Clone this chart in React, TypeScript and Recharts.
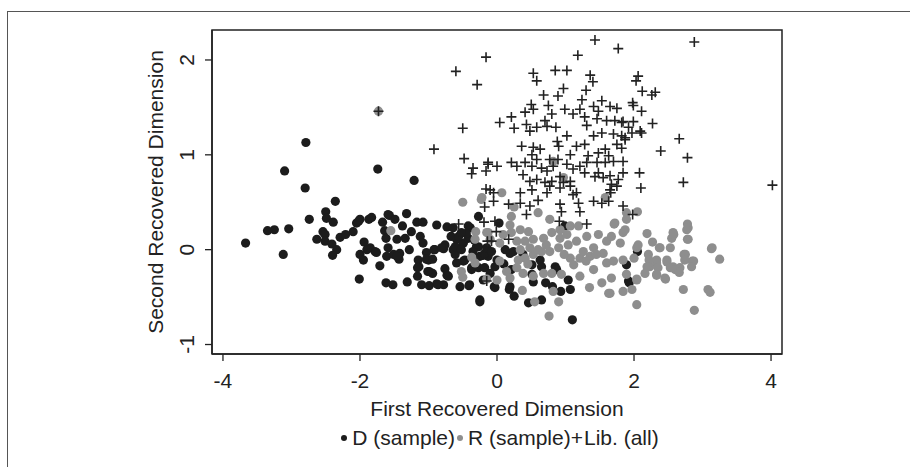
import { ScatterChart, Scatter, XAxis, YAxis, ReferenceArea } from "recharts";

const FONT = "'Liberation Sans', Arial, sans-serif";
const INK = "#222222";
const BLACK = "#1c1c1c";
const GRAY = "#8e8e8e";
const FS = 21;

const X_TICKS = [-4, -2, 0, 2, 4];
const Y_TICKS = [-1, 0, 1, 2];
const X_DOMAIN = [-4.16, 4.16];
const Y_DOMAIN = [-1.1, 2.316];

const X_TITLE = "First Recovered Dimension";
const Y_TITLE = "Second Recovered Dimension";

// D (sample)
const demSample: [number, number][] = [
  [-3.10, 0.83], [-2.79, 1.13], [-2.80, 0.65], [-1.74, 0.85], [-1.21, 0.73], [-2.36, 0.51], [-2.50, 0.40],
  [-2.49, 0.33], [-2.39, 0.29], [-2.74, 0.32], [-3.04, 0.22], [-3.25, 0.21], [-3.35, 0.20], [-3.67, 0.07],
  [-3.12, -0.05], [-2.54, 0.19], [-2.51, 0.16], [-2.63, 0.11], [-2.51, 0.09], [-2.41, 0.06], [-2.34, 0.00],
  [-2.40, -0.06], [-2.29, 0.13], [-2.21, 0.16], [-2.10, 0.19], [-2.05, 0.28], [-2.00, 0.32], [-1.87, 0.32],
  [-1.83, 0.34], [-1.67, 0.29], [-1.57, 0.36], [-1.49, 0.32], [-1.38, 0.25], [-1.32, 0.38], [-1.25, 0.19],
  [-1.17, 0.29], [-1.08, 0.29], [-0.88, 0.26], [-0.73, 0.24], [-1.64, 0.20], [-1.62, 0.12], [-1.46, 0.11],
  [-1.34, 0.12], [-1.12, 0.14], [-1.08, 0.07], [-1.94, 0.08], [-1.85, 0.02], [-1.78, -0.02], [-2.00, -0.05],
  [-1.95, -0.11], [-2.01, -0.31], [-1.71, -0.17], [-1.59, 0.02], [-1.61, -0.07], [-1.51, -0.05], [-1.43, -0.10],
  [-1.42, -0.04], [-1.28, 0.00], [-1.15, -0.11], [-1.14, -0.18], [-1.03, -0.03], [-1.00, -0.11], [-0.91, 0.00],
  [-0.78, 0.01], [-0.76, 0.05], [-0.67, 0.14], [-0.59, 0.11], [-0.64, 0.00], [-0.55, 0.02], [-0.49, 0.07],
  [-0.42, 0.12], [-0.30, 0.03], [-0.27, 0.35], [-0.39, 0.23], [-0.76, -0.20], [-0.99, -0.23], [-0.94, -0.25],
  [-1.16, -0.28], [-1.31, -0.34], [-1.52, -0.37], [-1.62, -0.35], [-1.10, -0.37], [-0.99, -0.38], [-0.88, -0.36],
  [-0.78, -0.37], [-0.73, -0.27], [-0.54, -0.39], [-0.40, -0.37], [-0.25, -0.55], [-0.59, -0.14], [-0.49, -0.12],
  [-0.37, -0.21], [-0.27, -0.19], [-0.18, -0.19], [-0.25, -0.07], [-0.20, -0.06], [-0.61, -0.05],
  [-0.04, -0.39], [-0.13, -0.07], [-0.27, 0.03], [-0.41, -0.38], [-0.56, 0.14], [-0.61, 0.03], [-0.52, 0.00],
  [-0.47, -0.11], [-0.37, -0.19], [-0.64, 0.23], [-0.42, 0.25], [-0.71, -0.28], [-2.02, 0.30], [-1.59, 0.37],
  [-1.90, 0.00], [-1.76, -0.03], [-1.46, -0.07], [-1.03, -0.10], [-0.94, -0.10], [-1.01, -0.23], [-1.16, -0.19],
  [-0.92, 0.00], [-0.81, 0.02], [-0.86, -0.37],
  [0.03, 0.28], [-0.18, -0.04], [0.00, -0.11], [-0.03, -0.18], [-0.20, -0.32], [-0.03, -0.40], [0.19, -0.39],
  [0.18, -0.42], [0.25, -0.49], [0.46, -0.56], [0.65, -0.53], [1.10, -0.74], [0.71, -0.35], [0.81, -0.39],
  [0.93, -0.44], [1.04, -0.32], [1.07, -0.42], [0.53, -0.34], [0.51, -0.26], [0.63, -0.11], [0.65, -0.18],
  [0.85, -0.18], [0.87, -0.21], [0.24, -0.02], [0.19, -0.04], [0.21, -0.21], [0.38, -0.05], [0.51, -0.16],
  [0.99, 0.25], [1.89, -0.16], [1.92, -0.33], [-0.25, -0.53], [2.05, -0.02], [1.93, -0.35],
  [-0.45, 0.17], [-0.33, 0.10], [-0.15, 0.02], [-0.08, -0.02], [-0.52, 0.18], [-0.35, -0.02], [-0.10, -0.25],
  [0.10, -0.15], [0.12, 0.00],
];

// R (sample)
const repSample: [number, number][] = [
  [-1.73, 1.46], [-0.50, 0.50], [-1.55, 0.20], [-0.23, 0.53], [-0.31, 0.19], [-0.32, 0.11], [-0.15, 0.18],
  [-0.37, -0.08], [-0.32, -0.14], [-0.52, -0.23], [-0.50, -0.29], [-0.13, 0.18], [0.07, 0.60], [0.82, 0.93],
  [0.97, 0.76], [-0.22, 0.55], [1.58, 0.55],
  [0.21, 0.35], [0.60, 0.39], [0.77, 0.32], [0.46, 0.19], [0.34, 0.21], [0.21, 0.18], [0.09, 0.16], [0.04, 0.07],
  [-0.10, 0.11], [0.19, 0.26], [0.29, 0.09], [0.41, 0.09], [0.53, 0.11], [0.68, 0.12], [0.80, 0.18], [0.92, 0.21],
  [1.07, 0.25], [1.19, 0.25], [1.31, 0.14], [1.16, 0.09], [1.04, 0.05], [0.90, 0.02], [0.77, -0.02], [0.65, -0.02],
  [0.53, -0.05], [0.41, -0.09], [0.31, -0.11], [0.29, -0.19], [0.38, -0.25], [0.53, -0.28], [0.68, -0.25],
  [0.80, -0.25], [0.94, -0.26], [0.82, -0.44], [0.37, -0.43], [0.76, -0.70], [1.07, -0.09], [1.21, -0.09],
  [1.36, -0.07], [1.26, -0.02], [1.41, 0.02], [1.55, -0.04], [1.48, 0.16], [1.60, 0.09], [1.67, 0.14], [1.80, 0.07],
  [1.84, 0.18], [1.87, 0.21], [1.72, 0.28], [1.89, 0.39], [1.60, -0.14], [1.70, -0.12], [1.84, -0.11], [1.21, -0.28],
  [1.41, -0.21], [1.53, -0.35], [1.67, -0.30], [1.65, -0.46], [1.84, -0.44], [1.89, -0.26], [0.14, -0.23],
  [0.19, -0.30], [0.00, -0.32], [-0.15, -0.31], [0.04, -0.12], [0.48, 0.02], [0.92, 0.12], [1.02, 0.16], [0.34, 0.00],
  [2.78, 0.27], [2.79, 0.23], [2.78, 0.11], [3.13, 0.01], [3.25, -0.10], [2.73, -0.05], [2.85, -0.12], [3.08, -0.42],
  [3.11, -0.45], [2.88, -0.64], [2.72, -0.42], [2.57, 0.18], [2.55, 0.12], [2.53, 0.02], [2.67, -0.19], [2.57, -0.18],
  [2.48, -0.11], [2.45, -0.30], [2.38, 0.02], [2.27, 0.08], [2.19, 0.17], [2.21, -0.05], [2.23, -0.18], [2.33, -0.14],
  [2.33, -0.26], [2.16, -0.25], [2.04, -0.58], [2.04, -0.32], [2.04, 0.02], [1.97, -0.42], [2.05, 0.40], [2.00, -0.09],
  [1.71, 0.27], [1.63, -0.46],
  [2.58, 0.16], [2.37, 0.02], [2.75, -0.05], [2.74, -0.11], [2.87, -0.12], [2.84, -0.18], [3.14, 0.02], [2.22, -0.11],
  [2.19, -0.18], [2.33, -0.11], [2.35, -0.19], [2.33, -0.27], [2.48, -0.13], [2.53, -0.19], [2.60, -0.21],
  [2.66, -0.24], [2.46, -0.31], [2.04, -0.31], [2.06, 0.05], [1.89, 0.32], [2.77, 0.21], [2.79, 0.11],
  [0.60, 0.00], [0.72, 0.05], [1.12, -0.16], [1.30, -0.12], [0.45, -0.15], [0.98, -0.05], [1.45, -0.05],
  [0.25, 0.45], [0.55, -0.55], [0.90, -0.55], [1.35, -0.40],
];

// Lib. (all)
const libAll: [number, number][] = [
  [-1.73, 1.46], [-0.92, 1.06], [-0.60, 1.88], [-0.29, 1.74], [-0.16, 2.03], [-0.50, 1.28], [-0.48, 0.96],
  [-0.35, 0.86], [-0.37, 0.80], [-0.16, 0.83], [-0.13, 0.92], [-0.16, 0.64], [-0.18, 0.45], [-0.19, 0.29],
  [-0.56, 0.27], [-0.14, 0.09], [-0.15, -0.33],
  [1.43, 2.21], [1.77, 2.12], [1.18, 2.05], [0.53, 1.86], [0.58, 1.78], [0.85, 1.89], [1.02, 1.89], [1.36, 1.84],
  [1.40, 1.77], [0.68, 1.63], [0.89, 1.62], [0.97, 1.70], [1.30, 1.68], [1.24, 1.58], [0.75, 1.52], [0.50, 1.53],
  [0.53, 1.48], [0.41, 1.45], [0.21, 1.40], [0.04, 1.34], [0.25, 1.28], [0.43, 1.32], [0.48, 1.25], [0.58, 1.29],
  [0.70, 1.36], [0.73, 1.30], [0.86, 1.29], [0.80, 1.43], [0.99, 1.48], [1.11, 1.43], [1.21, 1.48], [1.28, 1.40],
  [1.41, 1.51], [1.53, 1.57], [1.65, 1.51], [1.75, 1.49], [1.48, 1.46], [1.46, 1.38], [1.60, 1.36], [1.72, 1.36],
  [1.82, 1.34], [1.31, 1.31], [1.41, 1.20], [1.53, 1.23], [1.70, 1.22], [1.82, 1.20], [1.87, 1.16], [1.75, 1.11],
  [1.82, 1.07], [0.88, 1.14], [1.02, 1.20], [0.90, 1.09], [0.36, 1.09], [0.53, 1.08], [0.63, 1.06], [0.51, 1.00],
  [0.58, 0.95], [0.77, 0.95], [0.89, 0.95], [1.07, 1.00], [1.16, 1.09], [1.28, 1.11], [1.33, 0.99], [1.48, 1.02],
  [1.58, 1.06], [1.63, 0.99], [1.46, 0.92], [1.58, 0.92], [1.70, 0.93], [1.84, 0.93], [0.21, 0.92], [0.29, 0.88],
  [0.41, 0.92], [0.51, 0.88], [0.65, 0.86], [0.73, 0.83], [0.82, 0.88], [1.02, 0.90], [1.11, 0.85], [1.21, 0.88],
  [1.28, 0.81], [1.43, 0.77], [1.55, 0.76], [1.65, 0.78], [1.77, 0.74], [1.84, 0.81], [0.38, 0.79], [0.48, 0.72],
  [0.58, 0.74], [0.70, 0.71], [0.80, 0.72], [0.92, 0.77], [0.97, 0.71], [1.07, 0.72], [1.07, 0.67], [1.16, 0.60],
  [0.92, 0.65], [0.77, 0.67], [0.73, 0.60], [0.51, 0.63], [0.34, 0.60], [-0.13, 0.90], [0.00, 0.88], [-0.10, 0.63],
  [-0.05, 0.60], [1.65, 0.63], [1.75, 0.67], [1.48, 0.81], [1.31, 0.92],
  [2.88, 2.19], [2.06, 1.83], [2.03, 1.78], [2.12, 1.67], [2.26, 1.63], [2.31, 1.66], [1.98, 1.55], [1.99, 1.52],
  [2.11, 1.46], [2.27, 1.33], [1.99, 1.35], [1.84, 1.35], [1.92, 1.29], [1.97, 1.23], [2.09, 1.25], [2.11, 1.23],
  [1.87, 1.18], [2.66, 1.17], [2.39, 1.04], [2.78, 0.97], [2.08, 0.81], [2.10, 0.65], [2.72, 0.71], [4.02, 0.68],
  [1.67, 0.69], [1.66, 0.60], [1.63, 0.51], [1.53, 0.49], [1.41, 0.51], [1.84, 0.46], [1.98, 0.37], [1.31, 0.27],
  [1.21, 0.40], [1.19, 0.49], [1.11, 0.58], [0.92, 0.48], [0.94, 0.40], [0.91, 0.30], [0.60, 0.52], [0.48, 0.46],
  [0.34, 0.49], [0.43, 0.37], [0.17, 0.48], [-0.03, 0.30], [-0.05, 0.51], [-0.01, 0.19], [-0.08, 0.09], [0.17, 0.11],
];

const toPoints = (arr: [number, number][]) => arr.map(([x, y]) => ({ x, y }));

const dotShape = (fill: string) => (props: any) => {
  if (props.cx == null || props.cy == null) return <g />;
  return <circle cx={props.cx} cy={props.cy} r={4.6} fill={fill} />;
};

const plusShape = (props: any) => {
  const { cx, cy } = props;
  if (cx == null || cy == null) return <g />;
  return <path d={`M${cx - 5},${cy}h10M${cx},${cy - 5}v10`} stroke={INK} strokeWidth={1.6} fill="none" />;
};

const XTick = (props: any) => (
  <text x={props.x} y={props.y + 25} textAnchor="middle" fontFamily={FONT} fontSize={FS} fill={INK}>
    {props.payload.value}
  </text>
);

const YTick = (props: any) => {
  const x = props.x - 11;
  return (
    <text x={x} y={props.y} textAnchor="middle" fontFamily={FONT} fontSize={FS} fill={INK}
      transform={`rotate(-90 ${x} ${props.y})`}>
      {props.payload.value}
    </text>
  );
};

const XTitle = (props: any) => {
  const { x, y, width } = props.viewBox;
  return (
    <text x={x + width / 2} y={y + 62} textAnchor="middle" fontFamily={FONT} fontSize={FS} fill={INK}>
      {X_TITLE}
    </text>
  );
};

const YTitle = (props: any) => {
  const { y, height } = props.viewBox;
  const cx = 163;
  const cy = y + height / 2;
  return (
    <text x={cx} y={cy} textAnchor="middle" fontFamily={FONT} fontSize={FS} fill={INK}
      transform={`rotate(-90 ${cx} ${cy})`}>
      {Y_TITLE}
    </text>
  );
};

const legendItems = [
  { label: "D (sample)", color: BLACK, kind: "dot" },
  { label: "R (sample)", color: GRAY, kind: "dot" },
  { label: "Lib. (all)", color: INK, kind: "plus" },
];

// legend row is centred under the plot region, not the page
const LegendRow = () => (
  <div style={{ position: "absolute", left: 44, top: 425, width: 910, display: "flex", justifyContent: "center",
    alignItems: "center", fontFamily: FONT, fontSize: FS, color: INK, lineHeight: "26px" }}>
    {legendItems.map((it) => (
      <span key={it.label} style={{ display: "inline-flex", alignItems: "center" }}>
        {it.kind === "dot" ? (
          <svg width={10} height={12}><circle cx={5} cy={6} r={3} fill={it.color} /></svg>
        ) : (
          <span style={{ marginRight: 1 }}>+</span>
        )}
        <span style={{ marginLeft: it.kind === "dot" ? 3 : 0 }}>{it.label}</span>
      </span>
    ))}
  </div>
);

export default function App() {
  return (
    <div style={{ position: "absolute", left: 0, top: 0, width: 910, height: 467, background: "#fff", overflow: "hidden" }}>
      <div style={{ position: "absolute", left: 7, top: 11, width: 903, height: 456, boxSizing: "border-box",
        borderLeft: "1.5px solid #555", borderTop: "1.5px solid #555" }} />
      <ScatterChart width={910} height={467} margin={{ top: 30, right: 128, left: 0, bottom: 0 }}
        style={{ position: "absolute", left: 0, top: 0 }}>
        <XAxis type="number" dataKey="x" domain={X_DOMAIN} ticks={X_TICKS} allowDataOverflow height={113}
          tickSize={7} tickLine={{ stroke: INK, strokeWidth: 1.3 }} axisLine={{ stroke: INK, strokeWidth: 1.5 }}
          tick={<XTick />} label={<XTitle />} />
        <YAxis type="number" dataKey="y" domain={Y_DOMAIN} ticks={Y_TICKS} allowDataOverflow width={212}
          tickSize={7} tickMargin={0} tickLine={{ stroke: INK, strokeWidth: 1.3 }} axisLine={{ stroke: INK, strokeWidth: 1.5 }}
          tick={<YTick />} label={<YTitle />} />
        <Scatter name="D (sample)" data={toPoints(demSample)} shape={dotShape(BLACK)} isAnimationActive={false} />
        <Scatter name="R (sample)" data={toPoints(repSample)} shape={dotShape(GRAY)} isAnimationActive={false} />
        <Scatter name="Lib. (all)" data={toPoints(libAll)} shape={plusShape} isAnimationActive={false} />
        <ReferenceArea x1={X_DOMAIN[0]} x2={X_DOMAIN[1]} y1={Y_DOMAIN[0]} y2={Y_DOMAIN[1]}
          fill="none" stroke={INK} strokeWidth={1.5} ifOverflow="visible" />
      </ScatterChart>
      <LegendRow />
    </div>
  );
}
